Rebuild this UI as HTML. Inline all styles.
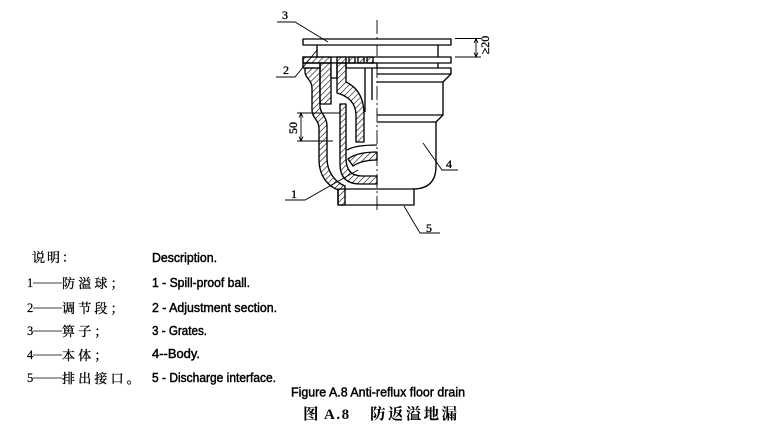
<!DOCTYPE html>
<html><head><meta charset="utf-8"><style>
html,body{margin:0;padding:0;background:#fff;}
svg{display:block;}
.lbl{font-family:"Liberation Serif",serif;font-size:12px;fill:#000;stroke:#000;stroke-width:0.35;}
.en{font-family:"Liberation Sans",sans-serif;font-size:12.5px;fill:#000;stroke:#000;stroke-width:0.45;}
.cn{font-family:"Liberation Serif","Noto Serif CJK SC",serif;font-size:13px;fill:#000;stroke:#000;stroke-width:0.3;}
.num{font-family:"Liberation Serif",serif;font-size:12.5px;fill:#000;stroke:#000;stroke-width:0.2;}
</style></head><body>
<svg width="783" height="436" viewBox="0 0 783 436" xmlns="http://www.w3.org/2000/svg">
<defs>
<pattern id="h" patternUnits="userSpaceOnUse" width="4.2" height="4.2" patternTransform="rotate(45)">
<line x1="0" y1="0" x2="0" y2="4.2" stroke="#000" stroke-width="1.15"/>
</pattern>
</defs>
<rect width="783" height="436" fill="#fff"/>

<!-- center line -->
<line x1="377" y1="20" x2="377" y2="212" stroke="#000" stroke-width="0.9" stroke-dasharray="14 3 2 3"/>

<g fill="none" stroke="#000" stroke-width="1.35" stroke-linejoin="round">
<!-- grate top plate -->
<rect x="303" y="39" width="148" height="6" fill="#fff"/>
<line x1="317" y1="45" x2="317" y2="57"/>
<line x1="438" y1="45" x2="438" y2="57"/>
<!-- second plate -->
<rect x="303" y="57" width="148" height="6" fill="#fff"/>
<rect x="303" y="57" width="28" height="6" fill="url(#h)"/>
<rect x="337" y="57" width="9" height="6" fill="url(#h)"/>
<rect x="349" y="57" width="6" height="6" fill="url(#h)"/>
<rect x="358" y="57" width="6" height="6" fill="url(#h)"/>
<rect x="367" y="57" width="6" height="6" fill="url(#h)"/>
<line x1="438" y1="63" x2="438" y2="68"/>
<rect x="303" y="63" width="17" height="5"/>
<rect x="346" y="63" width="31" height="5"/>
<!-- third plate and right body -->
<path d="M377,68 H451 V74 L443,82 H377"/>
<line x1="377" y1="74" x2="451" y2="74"/>
<path d="M443,82 V115 L436,122 V166 Q436,189 413,189"/>
<line x1="377" y1="115" x2="443" y2="115"/>
<line x1="377" y1="122" x2="436" y2="122"/>
<!-- discharge pipe -->
<rect x="338" y="189" width="76" height="16"/>
<!-- inner lines -->
<line x1="365" y1="68" x2="365" y2="112"/>
<line x1="372" y1="68" x2="372" y2="100"/>

<!-- outer wall -->
<path d="M305,68 H320 V106 C320,114 327,116 327,126 V158 C327,172 335,182 345,186 V205 H338 V190 C328,186 319,176 319,160 V128 C319,120 312,118 312,110 V88 C312,80 305,78 305,72 Z" fill="url(#h)"/>
<!-- sleeve -->
<path d="M320,63 H331 V104 H320 Z" fill="url(#h)"/>
<!-- slot -->
<rect x="331" y="63" width="6" height="15" fill="#fff"/>
<!-- column + arc band -->
<path d="M337,63 H346 V82 Q363,90 364,112 V142 H356 V114 Q355,98 337,93 Z" fill="url(#h)"/>
<!-- U tube -->
<path d="M340,104 H346 V158 Q346,176 362,176 H377 V184 H360 Q340,184 340,164 Z" fill="url(#h)"/>
<!-- ball -->
<path d="M347,150 Q355,145 377,145"/>
<path d="M348,159 Q357,152 377,152 V160 Q362,160 353,166 Z" fill="url(#h)"/>
</g>

<!-- dimensions -->
<g stroke="#000" stroke-width="0.9" fill="none">
<line x1="455" y1="38.5" x2="481" y2="38.5"/>
<line x1="455" y1="57" x2="481" y2="57"/>
<line x1="476" y1="38.5" x2="476" y2="57"/>
<path d="M474,43 L476,38.5 L478,43"/>
<path d="M474,52.5 L476,57 L478,52.5"/>
<line x1="297" y1="113" x2="340" y2="113"/>
<line x1="297" y1="141" x2="333" y2="141"/>
<line x1="301" y1="113" x2="301" y2="141"/>
<path d="M299,117.5 L301,113 L303,117.5"/>
<path d="M299,136.5 L301,141 L303,136.5"/>
</g>
<text class="lbl" transform="translate(489,45) rotate(-90)" text-anchor="middle" font-size="11">≥20</text>
<text class="lbl" transform="translate(297,128) rotate(-90)" text-anchor="middle" font-size="11">50</text>

<!-- leaders -->
<g stroke="#000" stroke-width="0.9" fill="none">
<path d="M277,22 H295 L328,42"/>
<path d="M276,77 H295 L317,50"/>
<path d="M285,200 H305 L358,170"/>
<path d="M423,143 L442,170 H458"/>
<path d="M404,206 L420,233 H440"/>
</g>
<text class="lbl" x="282" y="19">3</text>
<text class="lbl" x="283" y="74">2</text>
<text class="lbl" x="291" y="198">1</text>
<text class="lbl" x="446" y="168">4</text>
<text class="lbl" x="426" y="232">5</text>

<!-- legend chinese -->
<text class="cn" x="32" y="262" letter-spacing="2">说明：</text>
<g stroke="#000" stroke-width="0.8">
<line x1="33" y1="283" x2="62" y2="283"/>
<line x1="33" y1="308" x2="62" y2="308"/>
<line x1="33" y1="331" x2="62" y2="331"/>
<line x1="33" y1="355" x2="62" y2="355"/>
<line x1="33" y1="378" x2="62" y2="378"/>
</g>
<text class="num" x="27" y="287">1</text>
<text class="num" x="27" y="312">2</text>
<text class="num" x="27" y="335">3</text>
<text class="num" x="27" y="359">4</text>
<text class="num" x="27" y="382">5</text>
<text class="cn" x="62" y="288" letter-spacing="3.2">防溢球；</text>
<text class="cn" x="62" y="313" letter-spacing="3.2">调节段；</text>
<text class="cn" x="62" y="336" letter-spacing="3.2">箅子；</text>
<text class="cn" x="62" y="360" letter-spacing="3.2">本体；</text>
<text class="cn" x="62" y="383" letter-spacing="3.2">排出接口。</text>

<!-- legend english -->
<text class="en" x="152" y="262" textLength="65" lengthAdjust="spacingAndGlyphs">Description.</text>
<text class="en" x="152" y="287" textLength="98" lengthAdjust="spacingAndGlyphs">1 - Spill-proof ball.</text>
<text class="en" x="152" y="312" textLength="125" lengthAdjust="spacingAndGlyphs">2 - Adjustment section.</text>
<text class="en" x="152" y="335" textLength="55" lengthAdjust="spacingAndGlyphs">3 - Grates.</text>
<text class="en" x="152" y="358" textLength="48" lengthAdjust="spacingAndGlyphs">4--Body.</text>
<text class="en" x="152" y="382" textLength="124" lengthAdjust="spacingAndGlyphs">5 - Discharge interface.</text>

<!-- captions -->
<text class="en" x="291" y="396.5" font-size="13" textLength="174" lengthAdjust="spacingAndGlyphs">Figure A.8 Anti-reflux floor drain</text>
<text x="303" y="419" font-family="'Liberation Serif','Noto Serif CJK SC',serif" font-size="15.5" font-weight="bold">图</text>
<text x="324" y="419" font-family="'Liberation Serif',serif" font-size="15" font-weight="bold" letter-spacing="1.5">A.8</text>
<text x="370" y="419" font-family="'Liberation Serif','Noto Serif CJK SC',serif" font-size="15.5" font-weight="bold" textLength="87" lengthAdjust="spacing">防返溢地漏</text>
</svg>
</body></html>
